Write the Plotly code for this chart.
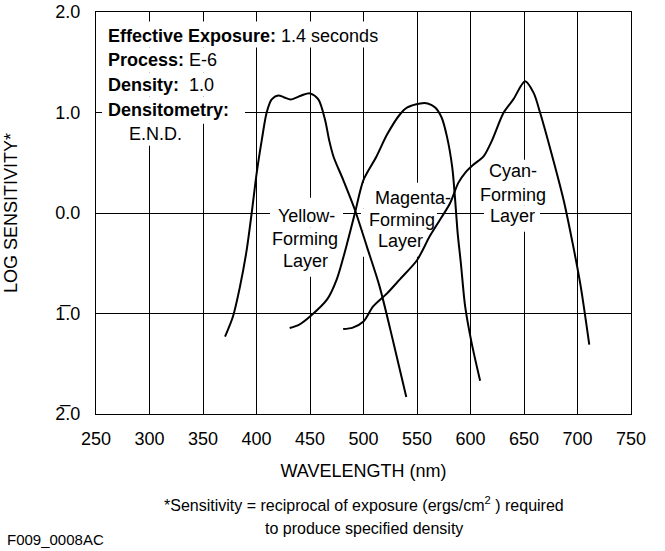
import plotly.graph_objects as go

# ---- data ----
yellow_nm = [370.6, 378, 384.6, 390.8, 395.5, 400.2, 405, 409.5, 414.2, 420.4, 426, 432, 442, 450, 457.8, 464, 468, 472, 481, 492, 503, 515, 528, 540]
yellow_log = [-1.23, -1.03, -0.73, -0.37, 0.0, 0.40, 0.73, 1.0, 1.13, 1.17, 1.15, 1.13, 1.17, 1.19, 1.13, 0.93, 0.72, 0.56, 0.33, 0.03, -0.33, -0.73, -1.29, -1.83]

magenta_nm = [431, 440, 450, 466, 475, 484, 492, 500, 512, 522, 534, 541, 553, 560, 567, 573, 578, 583, 585.5, 588, 591, 595, 601, 609]
magenta_log = [-1.145, -1.11, -1.03, -0.86, -0.66, -0.33, 0.0, 0.33, 0.56, 0.78, 0.98, 1.05, 1.09, 1.09, 1.05, 0.95, 0.76, 0.45, 0.15, -0.20, -0.50, -0.93, -1.29, -1.67]

cyan_nm = [481, 490, 500, 509, 522, 534, 550, 562, 571.5, 581, 588.6, 595, 602.6, 612, 620, 631, 640, 651, 659, 665, 674, 687, 696, 703, 711]
cyan_log = [-1.155, -1.14, -1.08, -0.93, -0.80, -0.66, -0.47, -0.23, -0.067, 0.10, 0.30, 0.40, 0.48, 0.56, 0.72, 1.0, 1.13, 1.31, 1.195, 1.0, 0.66, 0.13, -0.33, -0.73, -1.31]

x_ticks = [250, 300, 350, 400, 450, 500, 550, 600, 650, 700, 750]
y_ticks = [-2, -1, 0, 1, 2]
y_ticktext = ["2\u0305.0", "1\u0305.0", "0.0", "1.0", "2.0"]

info_lines = ["<b>Effective Exposure:</b> 1.4 seconds",
              "<b>Process:</b> E-6",
              "<b>Density:</b>\u00a0 1.0",
              "<b>Densitometry:</b>"]
info_sub = "E.N.D."

FONT = "Liberation Sans, Arial, Helvetica, sans-serif"

# layout geometry (pixels of the plot frame) used to place white label backgrounds
L, R, T, B = 96, 631, 12.5, 414.0
def X(px):
    return 250 + (px - L) * 500.0 / (R - L)
def Y(py):
    return 2 - (py - T) * 4.0 / (B - T)

fig = go.Figure()
for xs, ys, name in [(yellow_nm, yellow_log, "Yellow"),
                     (magenta_nm, magenta_log, "Magenta"),
                     (cyan_nm, cyan_log, "Cyan")]:
    fig.add_trace(go.Scatter(x=xs, y=ys, mode="lines", name=name,
                             line=dict(color="black", width=2, shape="spline", smoothing=0.8),
                             showlegend=False, hoverinfo="x+y"))

ann = []
info_y = [1.766, 1.522, 1.278, 1.029]
for txt, yy in zip(info_lines, info_y):
    ann.append(dict(x=259.5, y=yy, xref="x", yref="y", text=txt, showarrow=False,
                    xanchor="left", yanchor="middle",
                    font=dict(size=18, color="black", family=FONT)))
ann.append(dict(x=306, y=0.785, xref="x", yref="y", text=info_sub, showarrow=False,
                xanchor="center", yanchor="middle",
                font=dict(size=18, color="black", family=FONT)))

labels = [
    ("Yellow-", 446.7, -0.034), ("Forming", 445.3, -0.256), ("Layer", 446.0, -0.482),
    ("Magenta-", 546.7, 0.149), ("Forming", 536.4, -0.067), ("Layer", 535.0, -0.283),
    ("Cyan-", 639.8, 0.414), ("Forming", 639.6, 0.182), ("Layer", 639.3, -0.034),
]
for txt, xx, yy in labels:
    ann.append(dict(x=xx, y=yy, xref="x", yref="y", text=txt, showarrow=False,
                    xanchor="center", yanchor="middle",
                    font=dict(size=18, color="black", family=FONT)))

ann.append(dict(x=0.5, y=-0.224, xref="paper", yref="paper",
                text="*Sensitivity = reciprocal of exposure (ergs/cm<sup>2</sup> ) required",
                showarrow=False, xanchor="center", yanchor="middle",
                font=dict(size=16, color="black", family=FONT)))
ann.append(dict(x=0.5, y=-0.284, xref="paper", yref="paper",
                text="to produce specified density",
                showarrow=False, xanchor="center", yanchor="middle",
                font=dict(size=16, color="black", family=FONT)))
ann.append(dict(x=-0.170, y=-0.312, xref="paper", yref="paper",
                text="F009_0008AC", showarrow=False, xanchor="left", yanchor="middle",
                font=dict(size=15, color="black", family=FONT)))

# white backgrounds behind each text line (between gridlines and curves)
boxes_px = [
    (102, 399, 22, 48), (102, 226, 48, 73), (102, 222, 73, 97), (102, 245, 97, 124), (124, 188, 124, 146),
    (270, 343, 198, 228), (267, 343, 228, 250), (279, 334, 250, 277),
    (361, 453, 183, 209), (361, 437, 209, 231), (361, 424, 231, 257),
    (485, 543, 160, 183), (476, 551, 183, 206), (484, 540, 206, 232),
]
shapes = []
for x0, x1, y0, y1 in boxes_px:
    shapes.append(dict(type="rect", xref="x", yref="y", x0=X(x0), x1=X(x1), y0=Y(y1), y1=Y(y0),
                       fillcolor="white", line=dict(width=0), layer="between"))

fig.update_layout(
    width=665, height=551,
    margin=dict(l=96, r=34, t=12, b=137, autoexpand=False),
    paper_bgcolor="white", plot_bgcolor="white",
    font=dict(family=FONT, size=18, color="black"),
    annotations=ann, shapes=shapes,
)
fig.update_xaxes(range=[250, 750], tickvals=x_ticks, ticks="", showgrid=True,
                 gridcolor="black", gridwidth=1, zeroline=False, automargin=False,
                 showline=True, mirror=True, linecolor="black", linewidth=1.3,
                 tickfont=dict(size=18), ticklabelstandoff=8,
                 title=dict(text="WAVELENGTH (nm)", font=dict(size=18), standoff=16))
fig.update_yaxes(range=[-2, 2], tickvals=y_ticks, ticktext=y_ticktext, ticks="",
                 showgrid=True, gridcolor="black", gridwidth=1, zeroline=False, automargin=False,
                 showline=True, mirror=True, linecolor="black", linewidth=1.3,
                 tickfont=dict(size=18), ticklabelstandoff=11,
                 title=dict(text="LOG SENSITIVITY*", font=dict(size=18), standoff=32))

fig.write_html("out.html", config={"displayModeBar": False},
               post_script="document.body.style.margin='0';document.body.style.padding='0';")
